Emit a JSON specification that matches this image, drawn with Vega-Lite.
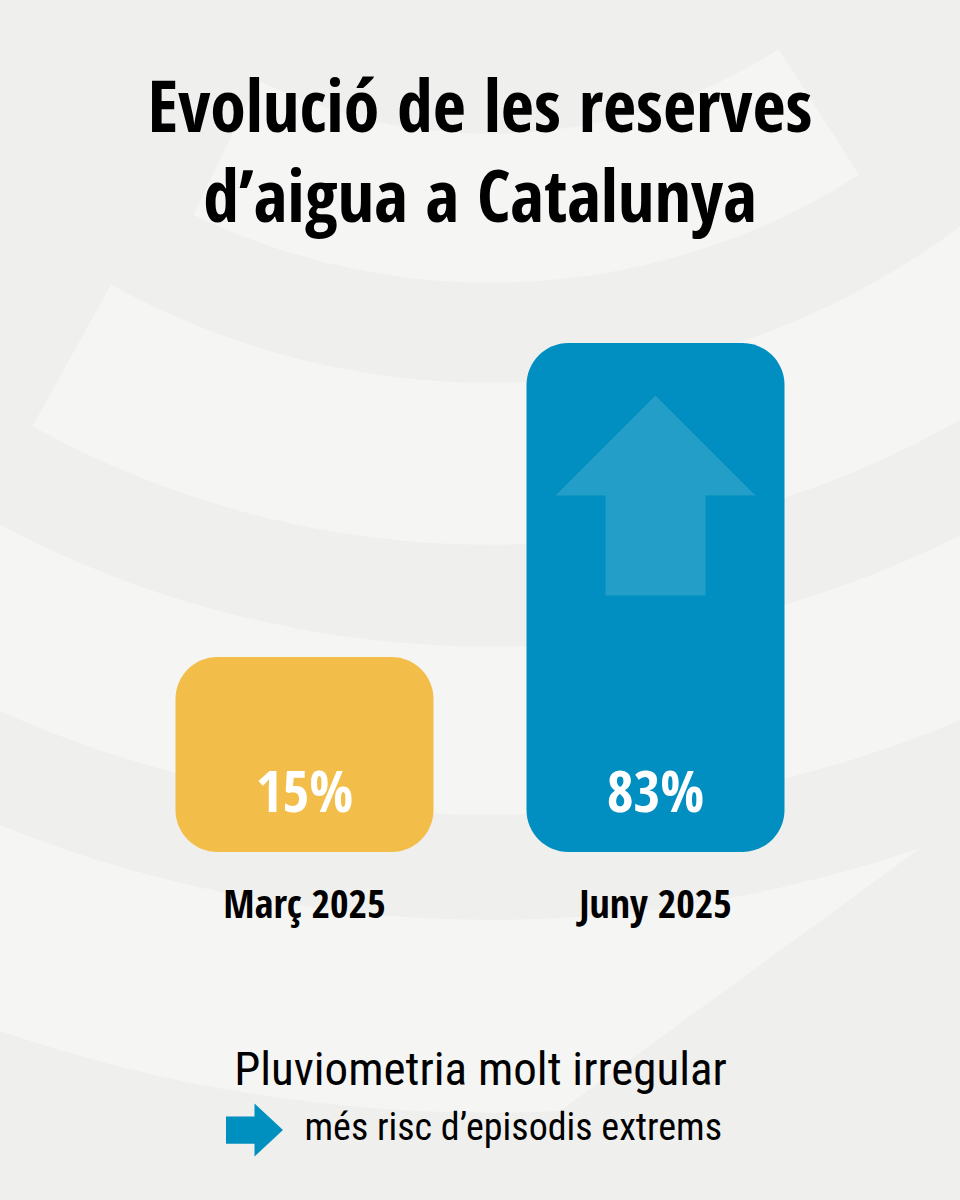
{
  "$schema": "https://vega.github.io/schema/vega-lite/v6.json",
  "width": 960,
  "height": 552,
  "autosize": {"type": "none"},
  "padding": {"top": 300, "left": 0, "right": 0, "bottom": 348},
  "background": "#efefee",
  "config": {"view": {"stroke": null}},
  "data": {
    "values": [
      {"period": "Març 2025", "reserves": 15, "label": "15%"},
      {"period": "Juny 2025", "reserves": 83, "label": "83%"}
    ]
  },
  "layer": [
    {
      "mark": {"type": "bar", "cornerRadius": 42, "opacity": 0},
      "encoding": {
        "x": {
          "field": "period",
          "type": "nominal",
          "sort": null,
          "scale": {"domain": ["Març 2025", "Juny 2025"], "paddingInner": 0.265, "paddingOuter": 0.5},
          "axis": {
            "orient": "bottom",
            "zindex": 2,
            "domain": false,
            "ticks": false,
            "tickSize": 0,
            "labelAngle": 0,
            "labelLimit": 500,
            "labelFont": "Open Sans Condensed",
            "labelFontSize": 40,
            "labelFontWeight": "bold",
            "labelColor": "#000000",
            "labelBaseline": "alphabetic",
            "labelPadding": 65,
            "title": "Pluviometria molt irregular",
            "titleFont": "Roboto Condensed",
            "titleFontSize": 47,
            "titleFontWeight": "normal",
            "titleColor": "#000000",
            "titlePadding": 122
          }
        },
        "y": {
          "field": "reserves",
          "type": "quantitative",
          "scale": {"domain": [-27.2, 92.3], "zero": false, "nice": false},
          "axis": null
        },
        "y2": {"datum": -27.2}
      }
    },
    {
      "data": {"values": [{"decor": "rings"}]},
      "mark": {
        "type": "point",
        "shape": "M 3.685 5.75 A 6.83 6.83 0 0 1 -2.971 6.15 L -2.323 4.809 A 5.34 5.34 0 0 0 2.881 4.496 Z M 8.938 3.069 A 9.45 9.45 0 0 1 -4.58 8.266 L -3.795 6.849 A 7.83 7.83 0 0 0 7.406 2.543 Z M 11.491 3.946 A 12.15 12.15 0 0 1 -6.961 9.958 L -5.998 8.581 A 10.47 10.47 0 0 0 9.902 3.401 Z M 0.696 15.114 A 15.13 15.13 0 0 1 -8.668 12.4 L -7.562 10.819 A 13.2 13.2 0 0 0 4.302 12.48 Z",
        "size": 40000,
        "filled": true,
        "color": "#f5f5f4",
        "opacity": 1,
        "strokeWidth": 0,
        "xOffset": 186
      },
      "encoding": {"x": {"datum": "Març 2025"}, "y": {"datum": 243.9}}
    },
    {
      "data": {"values": [{"heading": ["Evolució de les reserves", "d’aigua a Catalunya"]}]},
      "mark": {"type": "text", "font": "Open Sans Condensed", "fontWeight": "bold", "fontSize": 72, "lineHeight": 90, "color": "#000000", "align": "center", "baseline": "alphabetic", "xOffset": 175.5},
      "encoding": {
        "x": {"datum": "Març 2025"},
        "y": {"datum": 128.7},
        "text": {"field": "heading"}
      }
    },
    {
      "mark": {"type": "bar", "cornerRadius": 42},
      "encoding": {
        "x": {"field": "period", "type": "nominal", "sort": null},
        "y": {"field": "reserves", "type": "quantitative"},
        "y2": {"datum": -27.2},
        "color": {
          "field": "period",
          "type": "nominal",
          "scale": {"domain": ["Març 2025", "Juny 2025"], "range": ["#f3bd4a", "#008fc0"]},
          "legend": null
        }
      }
    },
    {
      "mark": {"type": "text", "font": "Open Sans Condensed", "fontWeight": "bold", "fontSize": 58, "color": "#ffffff", "baseline": "alphabetic", "align": "center"},
      "encoding": {
        "x": {"field": "period", "type": "nominal", "sort": null},
        "y": {"datum": -18.5},
        "text": {"field": "label"}
      }
    },
    {
      "data": {"values": [{"marker": "rise"}]},
      "mark": {
        "type": "point",
        "shape": "M 0 -1 L 1 0 L 0.5 0 L 0.5 1 L -0.5 1 L -0.5 0 L -1 0 Z",
        "size": 40000,
        "filled": true,
        "color": "#ffffff",
        "opacity": 0.135,
        "strokeWidth": 0
      },
      "encoding": {
        "x": {"datum": "Juny 2025"},
        "y": {"datum": 50}
      }
    },
    {
      "data": {"values": [{"note": "més risc d’episodis extrems"}]},
      "mark": {"type": "text", "font": "Roboto Condensed", "fontSize": 38, "color": "#000000", "align": "left", "baseline": "alphabetic"},
      "encoding": {
        "x": {"datum": "Març 2025"},
        "y": {"datum": -89.6},
        "text": {"field": "note"}
      }
    },
    {
      "data": {"values": [{"marker": "arrow"}]},
      "mark": {
        "type": "point",
        "shape": "M -1 -0.48 L 0 -0.48 L 0 -0.93 L 1 0 L 0 0.93 L 0 0.48 L -1 0.48 Z",
        "size": 3249,
        "filled": true,
        "color": "#0090c0",
        "opacity": 1,
        "strokeWidth": 0,
        "xOffset": -50
      },
      "encoding": {
        "x": {"datum": "Març 2025"},
        "y": {"datum": -87.4}
      }
    }
  ]
}
